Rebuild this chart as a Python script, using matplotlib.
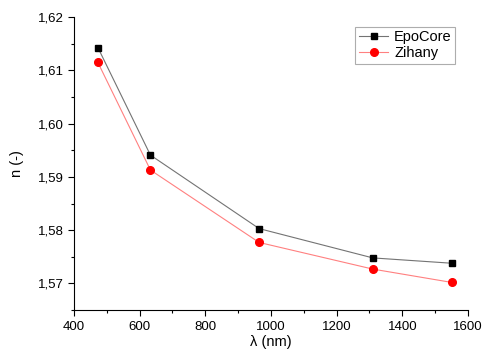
import matplotlib
matplotlib.use('Agg')
import matplotlib.pyplot as plt
from matplotlib.ticker import MultipleLocator, FuncFormatter

wavelength = [473, 633, 964, 1310, 1550]
epocore = [1.6143, 1.5941, 1.5803, 1.5748, 1.5738]
zihany = [1.6115, 1.5913, 1.5777, 1.5727, 1.5702]

plt.rcParams['font.family'] = ['Liberation Sans', 'DejaVu Sans']
plt.rcParams['font.size'] = 9.5

fig = plt.figure(figsize=(4.83, 3.5), dpi=100)
ax = fig.add_axes([0.153, 0.114, 0.816, 0.837])

ax.plot(wavelength, epocore, color='0.45', lw=0.8, marker='s', ms=5,
        mfc='black', mec='black', label='EpoCore')
ax.plot(wavelength, zihany, color='#ff8080', lw=0.8, marker='o', ms=5.5,
        mfc='red', mec='red', label='Zihany')

ax.set_xlim(400, 1600)
ax.set_ylim(1.565, 1.62)
ax.xaxis.set_major_locator(MultipleLocator(200))
ax.xaxis.set_minor_locator(MultipleLocator(100))
ax.yaxis.set_major_locator(MultipleLocator(0.01))
ax.yaxis.set_minor_locator(MultipleLocator(0.005))
ax.yaxis.set_major_formatter(FuncFormatter(lambda v, p: ('%.2f' % v).replace('.', ',')))
ax.tick_params(which='major', direction='out', length=4, width=0.8, labelsize=9.5)
ax.tick_params(which='minor', direction='out', length=2.5, width=0.8)
for s in ['top', 'right']:
    ax.spines[s].set_visible(False)

ax.set_xlabel('λ (nm)', labelpad=2, fontsize=10.5)
ax.set_ylabel('n (-)', labelpad=10, fontsize=10.5)

leg = ax.legend(loc='upper right', bbox_to_anchor=(0.968, 0.968), frameon=True,
                fancybox=False, edgecolor='0.6', fontsize=10.5, handlelength=2.0,
                handletextpad=0.4, borderpad=0.25, labelspacing=0.15,
                borderaxespad=0)
leg.get_frame().set_linewidth(0.8)

fig.savefig('out.png', dpi=100)
